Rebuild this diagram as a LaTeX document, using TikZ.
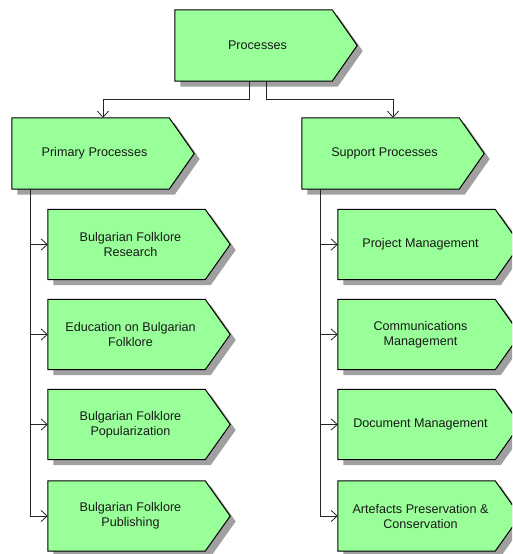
\documentclass[tikz,border=0pt]{standalone}
\usepackage{fontspec}
\setmainfont{Liberation Sans}
\usetikzlibrary{calc,arrows.meta,backgrounds}
\definecolor{procgreen}{HTML}{99FF99}
\definecolor{shadowgrey}{HTML}{A0A0A0}
\tikzset{
  proc/.style={minimum width=165, minimum height=71, inner sep=0pt, align=center,
    text=black!90, font=\fontsize{12.6pt}{15pt}\selectfont},
  child/.style={proc, minimum height=70},
  arr/.style={line width=0.9pt, draw=black!85, -{Straight Barb[length=6pt,width=11pt,line width=0.8pt]}},
  outline/.style={fill=procgreen, draw=black, line width=1pt, line join=miter},
  shade/.style={fill=shadowgrey}
}
\begin{document}
\begin{tikzpicture}[x=1pt,y=-1pt]
\useasboundingbox (0,0) rectangle (512,554);
% nodes (text regions)
\node[proc]  (top) at (257.5,45.5)  {Processes};
\node[proc]  (pp)  at (94.5,153.5)  {Primary Processes};
\node[proc]  (sp)  at (384.5,153.5) {Support Processes};
\node[child] (l1) at (130.5,244.5) {Bulgarian Folklore\\Research};
\node[child] (l2) at (130.5,334.5) {Education on Bulgarian\\Folklore};
\node[child] (l3) at (130.5,424.5) {Bulgarian Folklore\\Popularization};
\node[child] (l4) at (130.5,516)   {Bulgarian Folklore\\Publishing};
\node[child] (r1) at (420.5,244.5) {Project Management};
\node[child] (r2) at (420.5,334.5) {Communications\\Management};
\node[child] (r3) at (420.5,424.5) {Document Management};
\node[child] (r4) at (420.5,516)   {Artefacts Preservation \&\\Conservation};
% shapes behind text
\begin{scope}[on background layer]
\clip (0,0) rectangle (512,554);
\fill[white] (0,0) rectangle (512,554);
\foreach \n in {top,pp,sp,l1,l2,l3,l4,r1,r2,r3,r4}{
  \fill[shade] ($(\n.north west)+(5.5,5.5)$) -- ($(\n.north east)+(-2.5,5.5)$) -- ($(\n.east)+(22.5,5.5)$)
     -- ($(\n.south east)+(-2.5,5.5)$) -- ($(\n.south west)+(5.5,5.5)$) -- cycle;
  \draw[outline] (\n.north west) -- ($(\n.north east)+(-8,0)$) -- ($(\n.east)+(17,0)$)
     -- ($(\n.south east)+(-8,0)$) -- (\n.south west) -- cycle;
}
\end{scope}
% connectors from top
\draw[arr] ($(top.south)+(-8.5,0)$) -- ++(0,18) -| ($(pp.north)+(8.5,0)$);
\draw[arr] ($(top.south)+(8.5,0)$) -- ++(0,18) -| ($(sp.north)+(8.5,0)$);
% children
\foreach \c in {l1,l2,l3,l4}{
  \draw[arr] ($(pp.south west)+(19,0)$) |- (\c.west);
}
\foreach \c in {r1,r2,r3,r4}{
  \draw[arr] ($(sp.south west)+(19,0)$) |- (\c.west);
}
\end{tikzpicture}
\end{document}
